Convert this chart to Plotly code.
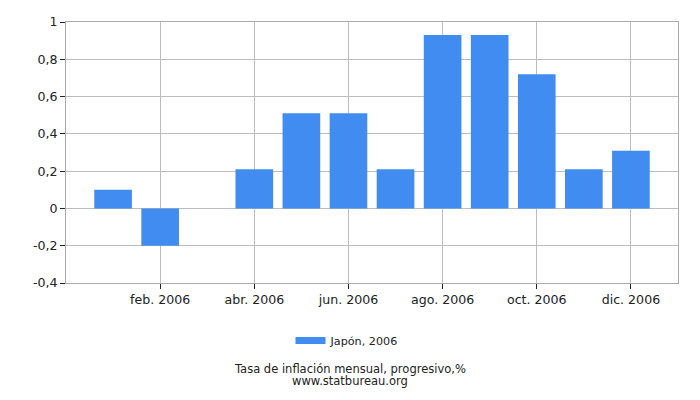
import plotly.graph_objects as go

months = ["ene. 2006", "feb. 2006", "mar. 2006", "abr. 2006", "may. 2006", "jun. 2006",
          "jul. 2006", "ago. 2006", "sep. 2006", "oct. 2006", "nov. 2006", "dic. 2006"]
values = [0.1, -0.2, 0.0, 0.21, 0.51, 0.51, 0.21, 0.93, 0.93, 0.72, 0.21, 0.31]
series_name = "Japón, 2006"
y_ticks = [-0.4, -0.2, 0, 0.2, 0.4, 0.6, 0.8, 1]
y_tick_labels = ["-0,4", "-0,2", "0", "0,2", "0,4", "0,6", "0,8", "1"]
x_tick_idx = [1, 3, 5, 7, 9, 11]

x_pos = list(range(len(months)))
color = "#418CF0"

fig = go.Figure()
fig.add_trace(go.Bar(
    x=x_pos, y=values, name=series_name, width=0.8,
    marker=dict(color=color, line=dict(width=0)),
    showlegend=False,
))
# legend entry drawn as a wide flat swatch
fig.add_trace(go.Scatter(
    x=[None], y=[None], mode="lines", name=series_name,
    line=dict(color=color, width=7), showlegend=True, hoverinfo="skip",
))

font = "DejaVu Sans, Verdana, sans-serif"
W, H = 692, 392           # page body has an 8px offset
L, R, T, B = 58, 22, 14, 116.5
plot_top, plot_bottom = T, H - B
plot_left, plot_right = L, W - R


def py(pix_window):
    # window pixel y -> paper y
    return (plot_bottom - (pix_window - 8)) / (plot_bottom - plot_top)


def px(pix_window):
    return ((pix_window - 8) - plot_left) / (plot_right - plot_left)


fig.update_layout(
    width=W, height=H,
    margin=dict(l=L, r=R, t=T, b=B, autoexpand=False),
    plot_bgcolor="white", paper_bgcolor="white",
    font=dict(family=font, size=12.6, color="#222"),
    showlegend=True,
    legend=dict(orientation="h", x=px(347), xanchor="center", y=py(341), yanchor="middle",
                font=dict(size=11.2), itemwidth=30),
    xaxis=dict(
        range=[-1, 12],
        tickmode="array", tickvals=x_tick_idx, ticktext=[months[i] for i in x_tick_idx],
        showgrid=True, gridcolor="#bdbdbd", gridwidth=1,
        ticks="outside", ticklen=5, tickcolor="#222",
        showline=True, linecolor="#aaaaaa", mirror=True,
        zeroline=False,
    ),
    yaxis=dict(
        range=[-0.4, 1],
        tickmode="array", tickvals=y_ticks, ticktext=y_tick_labels,
        showgrid=True, gridcolor="#bdbdbd", gridwidth=1,
        ticks="outside", ticklen=5, tickcolor="#222",
        showline=True, linecolor="#aaaaaa", mirror=True,
        zeroline=False,
    ),
    annotations=[
        dict(text="Tasa de inflación mensual, progresivo,%", x=px(350), xref="paper",
             y=py(370), yref="paper", yanchor="middle", showarrow=False,
             font=dict(size=11.5)),
        dict(text="www.statbureau.org", x=px(350), xref="paper",
             y=py(382), yref="paper", yanchor="middle", showarrow=False,
             font=dict(size=11.5)),
    ],
)
fig.write_html("out.html")
